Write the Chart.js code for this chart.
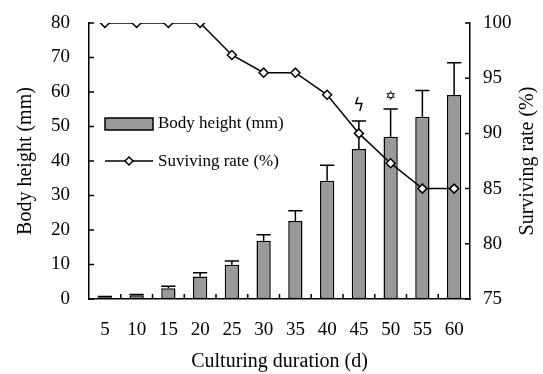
<!DOCTYPE html>
<html>
<head>
<meta charset="utf-8">
<script src="https://cdn.jsdelivr.net/npm/chart.js@4"></script>
<style>
  html, body { margin: 0; padding: 0; background: #fff; }
  #wrap { width: 543px; height: 374px; }
</style>
</head>
<body>
<div id="wrap"><canvas id="c"></canvas></div>
<script>
const days = ['5', '10', '15', '20', '25', '30', '35', '40', '45', '50', '55', '60'];
const bodyHeight = [0.5, 1.1, 3.1, 6.5, 9.9, 16.9, 22.6, 34.3, 43.5, 47.0, 52.8, 59.1];
const bodyHeightTop = [0.7, 1.3, 3.7, 7.6, 11.0, 18.6, 25.6, 38.8, 51.6, 55.1, 60.4, 68.5]; // top of error bar
const survivingRate = [100, 100, 100, 100, 97.1, 95.5, 95.5, 93.5, 90.0, 87.3, 85, 85];
const marks = ['', '', '', '', '', '', '', '', 'ϟ', '✡', '', ''];

const SERIF = '"Liberation Serif", "DejaVu Serif", serif';
const GREY = '#999999';

// error bars go between the bars and the line
const errorBars = {
  id: 'errorBars',
  afterDatasetDraw(chart, args) {
    if (args.index !== 0) return;
    const ctx = chart.ctx;
    const y = chart.scales.y;
    ctx.save();
    ctx.strokeStyle = '#000';
    ctx.lineWidth = 1.5;
    args.meta.data.forEach((bar, i) => {
      const top = y.getPixelForValue(bodyHeightTop[i]);
      const half = bar.width / 2;
      ctx.beginPath();
      ctx.moveTo(bar.x, bar.y);
      ctx.lineTo(bar.x, top);
      ctx.moveTo(bar.x - half, top);
      ctx.lineTo(bar.x + half, top);
      ctx.stroke();
      if (marks[i]) {
        ctx.fillStyle = '#000';
        ctx.textAlign = 'center';
        ctx.textBaseline = 'bottom';
        ctx.font = (marks[i] === 'ϟ' ? '17px ' : 'bold 13px ') + '"DejaVu Sans", sans-serif';
        ctx.fillText(marks[i], bar.x, top - 6);
      }
    });
    ctx.restore();
  }
};

// inward tick marks, right title + the legend box
const extras = {
  id: 'extras',
  afterDraw(chart) {
    const ctx = chart.ctx;
    const {left, right, top, bottom} = chart.chartArea;
    const y = chart.scales.y, y2 = chart.scales.y2;
    ctx.save();
    ctx.strokeStyle = '#000';
    ctx.lineWidth = 1.5;
    ctx.beginPath();
    y.ticks.forEach((t, i) => {
      const py = y.getPixelForTick(i);
      ctx.moveTo(left, py); ctx.lineTo(left + 5, py);
    });
    y2.ticks.forEach((t, i) => {
      const py = y2.getPixelForTick(i);
      ctx.moveTo(right, py); ctx.lineTo(right - 5, py);
    });
    const step = (right - left) / days.length;
    for (let i = 1; i < days.length; i++) {
      const px = left + step * i;
      ctx.moveTo(px, bottom); ctx.lineTo(px, bottom - 5);
    }
    ctx.stroke();

    // right axis title reads bottom to top
    ctx.save();
    ctx.translate(528, (top + bottom) / 2);
    ctx.rotate(-Math.PI / 2);
    ctx.fillStyle = '#000';
    ctx.font = '20px ' + SERIF;
    ctx.textAlign = 'center';
    ctx.textBaseline = 'middle';
    ctx.fillText('Surviving rate (%)', 0, 0);
    ctx.restore();

    // legend
    const lx = 105, lw = 48;
    ctx.fillStyle = GREY;
    ctx.fillRect(lx, 118, lw, 12);
    ctx.strokeRect(lx, 118, lw, 12);
    ctx.beginPath();
    ctx.moveTo(lx, 161); ctx.lineTo(lx + lw, 161);
    ctx.stroke();
    const cx = lx + lw / 2;
    ctx.beginPath();
    ctx.moveTo(cx, 157); ctx.lineTo(cx + 4, 161); ctx.lineTo(cx, 165); ctx.lineTo(cx - 4, 161);
    ctx.closePath();
    ctx.fillStyle = '#fff';
    ctx.fill();
    ctx.stroke();
    ctx.fillStyle = '#000';
    ctx.font = '17px ' + SERIF;
    ctx.textAlign = 'left';
    ctx.textBaseline = 'middle';
    ctx.fillText('Body height (mm)', 158, 124);
    ctx.fillText('Suviving rate (%)', 158, 162);
    ctx.restore();
  }
};

const tickFont = { family: SERIF, size: 19 };
const titleFont = { family: SERIF, size: 20 };

function fixY(width) {
  return function (s) {
    s.width = width;
    s.paddingTop = 0;
    s.paddingBottom = 0;
  };
}

new Chart(document.getElementById('c'), {
  data: {
    labels: days,
    datasets: [
      {
        type: 'bar',
        label: 'Body height (mm)',
        data: bodyHeight,
        yAxisID: 'y',
        backgroundColor: GREY,
        borderColor: '#000',
        borderWidth: 1.5,
        borderSkipped: false,
        categoryPercentage: 1,
        barPercentage: 0.45,
        order: 1
      },
      {
        type: 'line',
        label: 'Suviving rate (%)',
        data: survivingRate,
        yAxisID: 'y2',
        borderColor: '#000',
        borderWidth: 1.5,
        pointStyle: 'rectRot',
        pointRadius: 4.5,
        pointBackgroundColor: '#fff',
        pointBorderColor: '#000',
        pointBorderWidth: 1.5,
        tension: 0,
        order: 0
      }
    ]
  },
  options: {
    responsive: true,
    maintainAspectRatio: false,
    animation: false,
    layout: { padding: { top: 23, left: 0, right: 0, bottom: 0 } },
    plugins: {
      legend: { display: false },
      tooltip: { enabled: false }
    },
    scales: {
      x: {
        offset: true,
        grid: { display: false, drawTicks: false },
        border: { display: true, color: '#000', width: 1.5 },
        ticks: { color: '#000', font: tickFont, padding: 20, maxRotation: 0 },
        title: { display: true, text: 'Culturing duration (d)', color: '#000', font: titleFont, padding: 0 },
        afterFit(s) { s.height = 75; s.paddingLeft = 0; s.paddingRight = 0; }
      },
      y: {
        position: 'left',
        min: 0, max: 80,
        ticks: { stepSize: 10, color: '#000', font: tickFont, padding: 19 },
        grid: { display: false, drawTicks: false },
        border: { display: true, color: '#000', width: 1.5 },
        title: { display: true, text: 'Body height (mm)', color: '#000', font: titleFont, padding: { top: 14 } },
        afterFit: fixY(89)
      },
      y2: {
        position: 'right',
        min: 75, max: 100,
        ticks: { stepSize: 5, color: '#000', font: tickFont, padding: 13 },
        grid: { display: false, drawTicks: false },
        border: { display: true, color: '#000', width: 1.5 },
        afterFit: fixY(73)
      }
    }
  },
  plugins: [errorBars, extras]
});
</script>
</body>
</html>
